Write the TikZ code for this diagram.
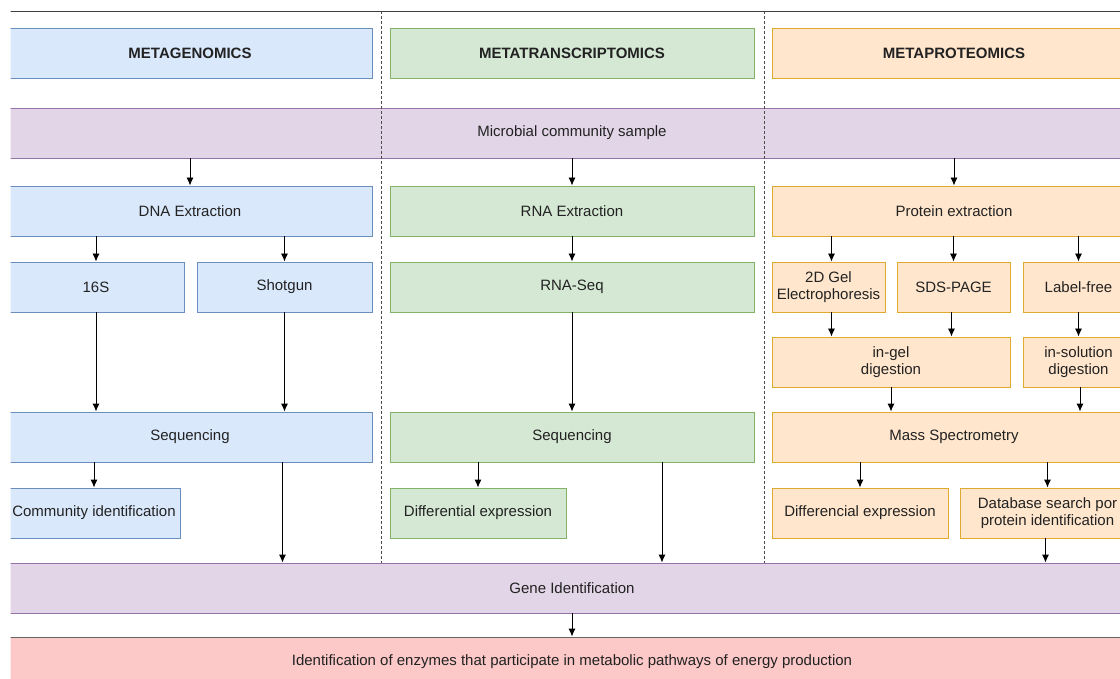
\documentclass[tikz,border=0pt]{standalone}
\usepackage{fontspec}
\setmainfont{Liberation Sans}
\usetikzlibrary{arrows.meta}

\definecolor{genfill}{HTML}{DAE8FC}
\definecolor{gendraw}{HTML}{6C8EBF}
\definecolor{trafill}{HTML}{D5E8D4}
\definecolor{tradraw}{HTML}{82B366}
\definecolor{profill}{HTML}{FFE6CC}
\definecolor{prodraw}{HTML}{E0AA30}
\definecolor{smpfill}{HTML}{E1D5E7}
\definecolor{smpdraw}{HTML}{9673A6}
\definecolor{endfill}{HTML}{FCC8C8}
\definecolor{txtgray}{HTML}{222222}

\begin{document}
\begin{tikzpicture}[x=1pt,y=-1pt]
\tikzstyle{every node}=[
  rectangle, inner sep=0pt, minimum height=50pt, align=center,
  line width=0.9pt, text=txtgray,
  font=\fontsize{15}{17}\selectfont ]
\tikzstyle{genbox}=[draw=gendraw, fill=genfill]
\tikzstyle{trabox}=[draw=tradraw, fill=trafill]
\tikzstyle{probox}=[draw=prodraw, fill=profill]
\tikzstyle{smpbox}=[draw=smpdraw, fill=smpfill]
\tikzstyle{endbox}=[draw=black!60, fill=endfill]
\tikzstyle{hdr}=[font=\fontsize{15}{17}\selectfont\bfseries]
\tikzstyle{arr}=[-{Latex[length=8pt,width=7pt]}, line width=0.9pt]
\tikzstyle{sep}=[densely dashed, black!70, line width=0.8pt]

\useasboundingbox (0,0) rectangle (1120,679);
\begin{scope}
\clip (10.5,0) rectangle (1120,679);

% column headers
\node[genbox,hdr,minimum width=364pt] (hdrgen) at (190,53) {METAGENOMICS};
\node[trabox,hdr,minimum width=364pt] (hdrtra) at (572,53) {METATRANSCRIPTOMICS};
\node[probox,hdr,minimum width=364pt] (hdrpro) at (954,53) {METAPROTEOMICS};

% shared sample
\node[smpbox,minimum width=1128pt] (sample) at (572,133) {Microbial community sample};

% extraction
\node[genbox,minimum width=364pt] (dna) at (190,211) {DNA Extraction};
\node[trabox,minimum width=364pt] (rna) at (572,211) {RNA Extraction};
\node[probox,minimum width=364pt] (prx) at (954,211) {Protein extraction};

% methods
\node[genbox,minimum width=176pt] (s16) at (96,287) {16S};
\node[genbox,minimum width=175pt] (shot) at (284.5,287) {Shotgun};
\node[trabox,minimum width=364pt] (rnaseq) at (572,287) {RNA-Seq};
\node[probox,minimum width=113pt] (gel) at (828.5,287) {2D Gel\\Electrophoresis};
\node[probox,minimum width=113pt] (sds) at (953.5,287) {SDS-PAGE};
\node[probox,minimum width=111pt] (lfree) at (1078.5,287) {Label-free};

% digestion
\node[probox,minimum width=238pt] (ingel) at (891,362) {in-gel\\digestion};
\node[probox,minimum width=111pt] (insol) at (1078.5,362) {in-solution\\digestion};

% sequencing / MS
\node[genbox,minimum width=364pt] (seqgen) at (190,437) {Sequencing};
\node[trabox,minimum width=364pt] (seqtra) at (572,437) {Sequencing};
\node[probox,minimum width=364pt] (mass) at (954,437) {Mass Spectrometry};

% results
\node[genbox,minimum width=172pt] (comm) at (94,513) {Community identification};
\node[trabox,minimum width=176pt] (difftra) at (478,513) {Differential expression};
\node[probox,minimum width=176pt] (diffpro) at (860,513) {Differencial expression};
\node[probox,minimum width=175pt] (dbs) at (1047.5,513) {Database search por\\protein identification};

% bottom
\node[smpbox,minimum width=1128pt] (gene) at (572,588) {Gene Identification};
\node[endbox,minimum width=1128pt] (final) at (572,662) {Identification of enzymes that participate in metabolic pathways of energy production};

% arrows
\draw[arr] (sample.south -| dna) -- (dna);
\draw[arr] (sample.south -| rna) -- (rna);
\draw[arr] (sample.south -| prx) -- (prx);
\draw[arr] (dna.south -| s16) -- (s16);
\draw[arr] (dna.south -| shot) -- (shot);
\draw[arr] (rna) -- (rnaseq);
\draw[arr] ([xshift=3pt]prx.south -| gel) -- ([xshift=3pt]gel.north);
\draw[arr] (prx.south -| sds) -- (sds);
\draw[arr] (prx.south -| lfree) -- (lfree);
\draw[arr] ([xshift=3pt]gel.south) -- ([xshift=3pt]gel.south |- ingel.north);
\draw[arr] ([xshift=-2pt]sds.south) -- ([xshift=-2pt]sds.south |- ingel.north);
\draw[arr] (lfree) -- (insol);
\draw[arr] (s16) -- (s16 |- seqgen.north);
\draw[arr] (shot) -- (shot |- seqgen.north);
\draw[arr] (rnaseq) -- (seqtra);
\draw[arr] (ingel) -- (ingel |- mass.north);
\draw[arr] ([xshift=1.5pt]insol.south) -- ([xshift=1.5pt]insol.south |- mass.north);
\draw[arr] (seqgen.south -| comm) -- (comm);
\draw[arr] (seqtra.south -| difftra) -- (difftra);
\draw[arr] (mass.south -| diffpro) -- (diffpro);
\draw[arr] (mass.south -| dbs) -- (dbs);
\draw[arr] ([xshift=-2pt]seqgen.south -| shot) -- ([xshift=-2pt]gene.north -| shot);
\draw[arr] ([xshift=90pt]seqtra.south) -- ([xshift=90pt]seqtra.south |- gene.north);
\draw[arr] ([xshift=-2pt]dbs.south) -- ([xshift=-2pt]dbs.south |- gene.north);
\draw[arr] (gene) -- (final);

% column separators
\coordinate (septop1) at (381,11);
\coordinate (septop2) at (764,11);
\draw[sep] (septop1) -- (septop1 |- gene.north);
\draw[sep] (septop2) -- (septop2 |- gene.north);
\draw[black!75, line width=0.9pt] (10,11) -- (1120,11);
\end{scope}
\end{tikzpicture}
\end{document}
